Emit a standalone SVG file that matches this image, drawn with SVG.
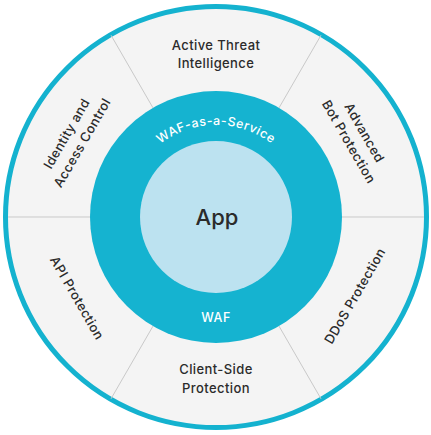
<svg xmlns="http://www.w3.org/2000/svg" xmlns:xlink="http://www.w3.org/1999/xlink" width="431" height="435" viewBox="0 0 431 435">
  <style>
    .lbl { font-family: Inter, "Open Sans", "Liberation Sans", sans-serif; font-weight: 500; font-size: 13px; fill: #2b2b2b; text-anchor: middle; letter-spacing: 0.4px; }
    .wlbl { font-family: Inter, "Open Sans", "Liberation Sans", sans-serif; font-weight: 500; font-size: 12.5px; fill: #ffffff; text-anchor: middle; letter-spacing: 0.5px; }
    .div { stroke: #c9c9c9; stroke-width: 1; }
  </style>
  <defs>
    <path id="arcTop" d="M 124 217 A 92 92 0 0 1 308 217"/>
  </defs>
  <rect width="431" height="435" fill="#ffffff"/>
  <g id="outer-ring">
    <circle cx="216" cy="217" r="210.5" fill="#f4f4f4" stroke="#14b2cf" stroke-width="5"/>
  </g>
  <g id="connectors">
    <line class="div" x1="279" y1="107.9" x2="321" y2="35.2"/>
    <line class="div" x1="153" y1="107.9" x2="111" y2="35.2"/>
    <line class="div" x1="90" y1="217" x2="8" y2="217"/>
    <line class="div" x1="342" y1="217" x2="424" y2="217"/>
    <line class="div" x1="153" y1="326.1" x2="111" y2="398.8"/>
    <line class="div" x1="279" y1="326.1" x2="321" y2="398.8"/>
  </g>
  <g id="waf">
    <circle cx="216" cy="217" r="126" fill="#15b3d0"/>
    <text class="wlbl"><textPath xlink:href="#arcTop" href="#arcTop" startOffset="50%">WAF-as-a-Service</textPath></text>
    <text class="wlbl" x="216" y="322">WAF</text>
  </g>
  <g id="app">
    <circle cx="216" cy="217" r="76" fill="#bce2f0"/>
    <text x="217" y="225" font-family="Inter, 'Open Sans', 'Liberation Sans', sans-serif" font-weight="500" font-size="22" fill="#2b2b2b" text-anchor="middle">App</text>
  </g>
  <g id="active-threat">
    <text class="lbl" x="216" y="50">Active Threat</text>
    <text class="lbl" x="216" y="68">Intelligence</text>
  </g>
  <g id="bot-protection" transform="translate(357 137) rotate(60)">
    <text class="lbl" x="0" y="-4">Advanced</text>
    <text class="lbl" x="0" y="14">Bot Protection</text>
  </g>
  <g id="ddos" transform="translate(355 296) rotate(-60)">
    <text class="lbl" x="0" y="4.5">DDoS Protection</text>
  </g>
  <g id="client-side">
    <text class="lbl" x="216" y="374">Client-Side</text>
    <text class="lbl" x="216" y="393">Protection</text>
  </g>
  <g id="api-protection" transform="translate(77 298) rotate(60)">
    <text class="lbl" x="0" y="4.5">API Protection</text>
  </g>
  <g id="identity" transform="translate(74 138) rotate(-60)">
    <text class="lbl" x="0" y="-4">Identity and</text>
    <text class="lbl" x="0" y="14">Access Control</text>
  </g>
</svg>
